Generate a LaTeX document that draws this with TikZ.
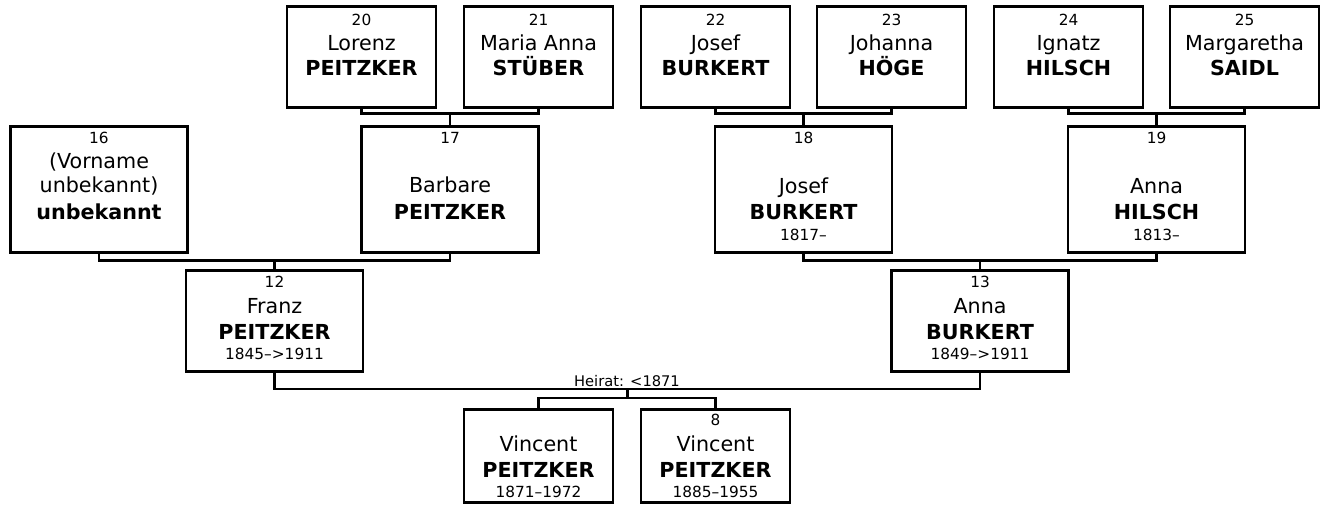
\documentclass[tikz,border=0pt]{standalone}
\usepackage{fontspec}
\setmainfont{DejaVu Sans}
\begin{document}
\begin{tikzpicture}[x=0.75pt,y=-0.75pt]
\tikzset{
  pbox/.style={draw, line width=2.2pt, inner sep=0pt, anchor=north},
  boxA/.style={minimum width=111.75pt, minimum height=75.75pt},
  boxB/.style={minimum width=132.75pt, minimum height=94.5pt},
  boxC/.style={minimum width=132.75pt, minimum height=75.75pt},
  boxD/.style={minimum width=111.75pt, minimum height=69.75pt},
  num/.style={anchor=base, inner sep=0pt, font=\fontsize{11.5}{13}\selectfont},
  gname/.style={anchor=base, inner sep=0pt, font=\fontsize{15.5}{18}\selectfont},
  sname/.style={anchor=base, inner sep=0pt, font=\fontsize{15.5}{18}\selectfont\bfseries},
  conn/.style={line width=2.2pt},
}
\useasboundingbox[fill=white] (0,0) rectangle (1323,504);

% generation 4
\node[pbox,boxA] (p20) at (361.5,5) {};
\node[pbox,boxA] (p21) at (538.5,5) {};
\node[pbox,boxA] (p22) at (715.5,5) {};
\node[pbox,boxA] (p23) at (891.5,5) {};
\node[pbox,boxA] (p24) at (1068.5,5) {};
\node[pbox,boxA] (p25) at (1244.5,5) {};
\path (p20.north) ++(0,20) node[num]{20} ++(0,25) node[gname]{Lorenz} ++(0,25) node[sname]{PEITZKER};
\path (p21.north) ++(0,20) node[num]{21} ++(0,25) node[gname]{Maria Anna} ++(0,25) node[sname]{STÜBER};
\path (p22.north) ++(0,20) node[num]{22} ++(0,25) node[gname]{Josef} ++(0,25) node[sname]{BURKERT};
\path (p23.north) ++(0,20) node[num]{23} ++(0,25) node[gname]{Johanna} ++(0,25) node[sname]{HÖGE};
\path (p24.north) ++(0,20) node[num]{24} ++(0,25) node[gname]{Ignatz} ++(0,25) node[sname]{HILSCH};
\path (p25.north) ++(0,20) node[num]{25} ++(0,25) node[gname]{Margaretha} ++(0,25) node[sname]{SAIDL};

% generation 3
\node[pbox,boxB] (p16) at (99,125) {};
\node[pbox,boxB] (p17) at (450,125) {};
\node[pbox,boxB] (p18) at (803.5,125) {};
\node[pbox,boxB] (p19) at (1156.5,125) {};
\path (p16.north) ++(0,18) node[num]{16} ++(0,25) node[gname]{(Vorname} ++(0,24.5) node[gname]{unbekannt)} ++(0,26.5) node[sname]{unbekannt};
\path (p17.north) ++(0,18) node[num]{17} ++(0,49.5) node[gname]{Barbare} ++(0,26.5) node[sname]{PEITZKER};
\path (p18.north) ++(0,18) node[num]{18} ++(0,50) node[gname]{Josef} ++(0,26.5) node[sname]{BURKERT} ++(0,20.5) node[num]{1817–};
\path (p19.north) ++(0,18) node[num]{19} ++(0,50) node[gname]{Anna} ++(0,26.5) node[sname]{HILSCH} ++(0,20.5) node[num]{1813–};

% generation 2
\node[pbox,boxC] (p12) at (274.5,269) {};
\node[pbox,boxC] (p13) at (980,269) {};
\path (p12.north) ++(0,18.5) node[num]{12} ++(0,25.5) node[gname]{Franz} ++(0,26) node[sname]{PEITZKER} ++(0,20) node[num]{1845–>1911};
\path (p13.north) ++(0,18.5) node[num]{13} ++(0,25.5) node[gname]{Anna} ++(0,26) node[sname]{BURKERT} ++(0,20) node[num]{1849–>1911};

% children
\node[pbox,boxD] (c1) at (538.5,408) {};
\node[pbox,boxD] (c8) at (715.5,408) {};
\path (c1.north) ++(0,43) node[gname]{Vincent} ++(0,26) node[sname]{PEITZKER} ++(0,20) node[num]{1871–1972};
\path (c8.north) ++(0,17.5) node[num]{8} ++(0,25.5) node[gname]{Vincent} ++(0,26) node[sname]{PEITZKER} ++(0,20) node[num]{1885–1955};

% junction points
\coordinate (j17) at (450,113.5);
\coordinate (j18) at (803.5,113.5);
\coordinate (j19) at (1156.5,113.5);
\coordinate (j12) at (274.5,260.5);
\coordinate (j13) at (980,260.5);
\coordinate (m) at (627.25,389);
\coordinate (jc) at (627,398);

% connectors
\draw[conn] (p20.south) -- (p20.south |- j17) -| (p21.south);
\draw[conn] (j17) -- (p17.north);
\draw[conn] (p22.south) -- (p22.south |- j18) -| (p23.south);
\draw[conn] (j18) -- (p18.north);
\draw[conn] (p24.south) -- (p24.south |- j19) -| (p25.south);
\draw[conn] (j19) -- (p19.north);
\draw[conn] (p16.south) -- (p16.south |- j12) -| (p17.south);
\draw[conn] (j12) -- (p12.north);
\draw[conn] (p18.south) -- (p18.south |- j13) -| (p19.south);
\draw[conn] (j13) -- (p13.north);
\draw[conn] (p12.south) -- (p12.south |- m) -| (p13.south);
\draw[conn] (m) -- (m |- jc);
\draw[conn] (c1.north) -- (c1.north |- jc) -| (c8.north);
\node[anchor=base, inner sep=0pt, font=\fontsize{11}{13}\selectfont] (heirat) at (627,386) {Heirat: <1871};
\end{tikzpicture}
\end{document}
